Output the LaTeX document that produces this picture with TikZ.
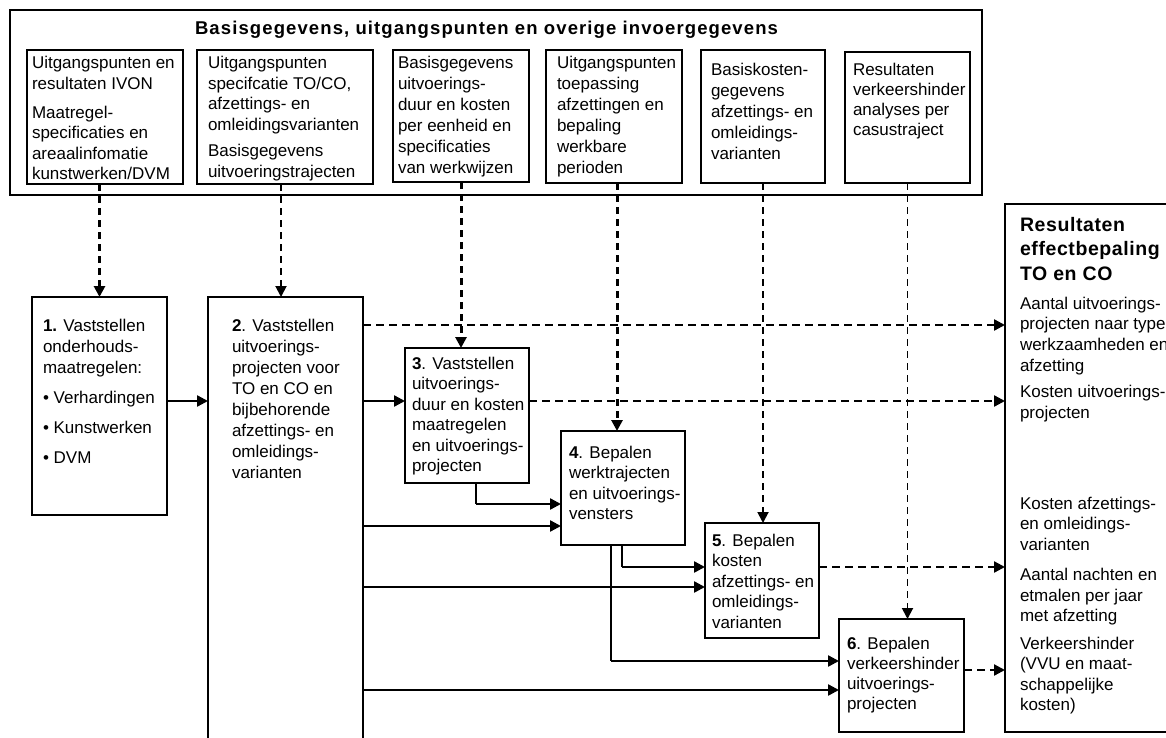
\documentclass[tikz,border=0pt]{standalone}
\usepackage{fontspec}
\setmainfont{Liberation Sans}
\usetikzlibrary{arrows.meta}
\newcommand\tbx[2][20.5]{\parbox[t]{230pt}{\fontsize{17}{#1}\selectfont\raggedright #2}}
\begin{document}
\begin{tikzpicture}[x=1pt,y=-1pt,
  box/.style={draw, line width=1.4pt, rectangle, inner sep=0pt, outer sep=0pt, anchor=north west},
  txt/.style={inner sep=0pt, outer sep=0pt, anchor=base west},
  arr/.style={-{Triangle[length=11pt,width=11pt]}},
  sol/.style={line width=2.4pt, arr},
  thinl/.style={line width=1.5pt},
  hdash/.style={line width=2.3pt, dash pattern=on 8pt off 5pt, arr},
  vthick/.style={line width=3pt, dash pattern=on 7pt off 5pt, arr},
  vthin/.style={line width=1.9pt, dash pattern=on 7pt off 5pt, arr}]
\useasboundingbox (0,0) rectangle (1166,738);
% top input block
\node[box, minimum width=972pt, minimum height=185pt] (top) at (10,10) {};
\node[anchor=base, inner sep=0pt] (title) at (486.5,35)
  {\fontsize{18.5}{20}\selectfont\bfseries\addfontfeature{LetterSpace=6}Basisgegevens, uitgangspunten en overige invoergegevens};
\node[box, minimum width=156pt, minimum height=134pt] (t1) at (27,50) {};
\node[box, minimum width=176pt, minimum height=134pt] (t2) at (197,50) {};
\node[box, minimum width=136pt, minimum height=132pt] (t3) at (393,50) {};
\node[box, minimum width=136pt, minimum height=133pt] (t4) at (546,50) {};
\node[box, minimum width=124pt, minimum height=133pt] (t5) at (701,50) {};
\node[box, minimum width=125pt, minimum height=131pt] (t6) at (845,52) {};
\node[txt] (t1t) at (32,69) {\tbx{Uitgangspunten en\\ resultaten IVON\\[8.5pt] Maatregel-\\ specificaties en\\ areaalinfomatie\\ kunstwerken/DVM}};
\node[txt] (t2t) at (208,69) {\tbx{Uitgangspunten\\ specifcatie TO/CO,\\ afzettings- en\\ omleidingsvarianten\\[6pt] Basisgegevens\\ uitvoeringstrajecten}};
\node[txt] (t3t) at (398,69) {\tbx[21]{Basisgegevens\\ uitvoerings-\\ duur en kosten\\ per eenheid en\\ specificaties\\ van werkwijzen}};
\node[txt] (t4t) at (557,69) {\tbx[21]{Uitgangspunten\\ toepassing\\ afzettingen en\\ bepaling\\ werkbare\\ perioden}};
\node[txt] (t5t) at (711,76) {\tbx[21]{Basiskosten-\\ gegevens\\ afzettings- en\\ omleidings-\\ varianten}};
\node[txt] (t6t) at (853,76) {\tbx[20]{Resultaten\\ verkeershinder\\ analyses per\\ casustraject}};
% process boxes
\node[box, minimum width=135pt, minimum height=218pt] (p1) at (32,297) {};
\node[box, minimum width=155pt, minimum height=470pt] (p2) at (208,297) {};
\node[box, minimum width=124pt, minimum height=135pt] (p3) at (405,348) {};
\node[box, minimum width=124pt, minimum height=114pt] (p4) at (561,431) {};
\node[box, minimum width=114pt, minimum height=115pt] (p5) at (705,523) {};
\node[box, minimum width=125pt, minimum height=113pt] (p6) at (839,619) {};
\node[box, minimum width=220pt, minimum height=528pt] (res) at (1005,204) {};
\node[txt] (p1t) at (43,331) {\tbx[21]{\textbf{1.} Vaststellen\\ onderhouds-\\ maatregelen:\\[9pt] • Verhardingen\\[9pt] • Kunstwerken\\[9pt] • DVM}};
\node[txt] (p2t) at (232,331) {\tbx[21]{\textbf{2}. Vaststellen\\ uitvoerings-\\ projecten voor\\ TO en CO en\\ bijbehorende\\ afzettings- en\\ omleidings-\\ varianten}};
\node[txt] (p3t) at (412,369) {\tbx{\textbf{3}. Vaststellen\\ uitvoerings-\\ duur en kosten\\ maatregelen\\ en uitvoerings-\\ projecten}};
\node[txt] (p4t) at (569,458) {\tbx{\textbf{4}. Bepalen\\ werktrajecten\\ en uitvoerings-\\ vensters}};
\node[txt] (p5t) at (712,546) {\tbx{\textbf{5}. Bepalen\\ kosten\\ afzettings- en\\ omleidings-\\ varianten}};
\node[txt] (p6t) at (847,649) {\tbx[20]{\textbf{6}. Bepalen\\ verkeershinder\\ uitvoerings-\\ projecten}};
\node[txt] (rest) at (1020,231) {\parbox[t]{200pt}{\fontsize{19.5}{24.5}\selectfont\bfseries\addfontfeature{LetterSpace=3}Resultaten\\ effectbepaling\\ TO en CO}};
\node[txt] (resa) at (1020,309) {\tbx[20.7]{Aantal uitvoerings-\\ projecten naar type\\ werkzaamheden en\\ afzetting\\[6pt] Kosten uitvoerings-\\ projecten}};
\node[txt] (resb) at (1020,509) {\tbx{Kosten afzettings-\\ en omleidings-\\ varianten\\[10pt] Aantal nachten en\\ etmalen per jaar\\ met afzetting\\[7pt] Verkeershinder\\ (VVU en maat-\\ schappelijke\\ kosten)}};
% helper coordinates
\coordinate (yA) at (0,325);
\coordinate (yB) at (0,401);
\coordinate (k1) at (476,504);
\coordinate (yC) at (0,526);
\coordinate (k2) at (622,567);
\coordinate (yD) at (0,587);
\coordinate (k3) at (611,661);
\coordinate (yF) at (0,670);
\coordinate (yE) at (0,690);
\coordinate (xa) at (281,0);
\coordinate (xb) at (617,0);
% vertical dashed inputs
\draw[vthick] (t1.south -| p1.north) -- (p1.north);
\draw[vthin] (t2.south -| xa) -- (p2.north -| xa);
\draw[vthick] (t3.south) -- (p3.north -| t3.south);
\draw[vthick] (t4.south -| xb) -- (p4.north -| xb);
\draw[vthin] (t5.south) -- (p5.north -| t5.south);
\draw[vthin] (t6.south) -- (p6.north -| t6.south);
% dashed outputs
\draw[hdash] (p2.east |- yA) -- (res.west |- yA);
\draw[hdash] (p3.east |- yB) -- (res.west |- yB);
\draw[hdash] (p5.east |- k2) -- (res.west |- k2);
\draw[hdash] (p6.east |- yF) -- (res.west |- yF);
% solid flows
\draw[sol] (p1.east |- yB) -- (p2.west |- yB);
\draw[sol] (p2.east |- yB) -- (p3.west |- yB);
\draw[thinl] (p3.south -| k1) -- (k1);
\draw[sol] (k1) -- (p4.west |- k1);
\draw[sol] (p2.east |- yC) -- (p4.west |- yC);
\draw[thinl] (p4.south -| k2) -- (k2);
\draw[sol] (k2) -- (p5.west |- k2);
\draw[sol] (p2.east |- yD) -- (p5.west |- yD);
\draw[thinl] (p4.south -| k3) -- (k3);
\draw[sol] (k3) -- (p6.west |- k3);
\draw[sol] (p2.east |- yE) -- (p6.west |- yE);
\end{tikzpicture}
\end{document}
